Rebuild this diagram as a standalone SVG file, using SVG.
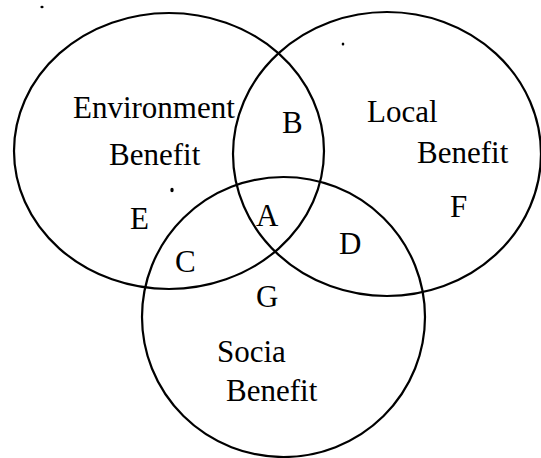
<svg xmlns="http://www.w3.org/2000/svg" width="541" height="458" viewBox="0 0 541 458">
<style>
.c{fill:none;stroke:#000;stroke-width:2.2}
.t{font-family:'Liberation Serif',serif;font-size:31px;fill:#000}
.d{fill:#000}
</style>
<rect width="541" height="458" fill="#fff"/>
<g id="environment">
<ellipse class="c" cx="169" cy="151" rx="155" ry="138"/>
<text class="t" x="73" y="118">Environment</text>
<text class="t" x="109" y="165">Benefit</text>
</g>
<g id="local">
<ellipse class="c" cx="387" cy="154" rx="154" ry="142"/>
<text class="t" x="367" y="122">Local</text>
<text class="t" x="417" y="163">Benefit</text>
</g>
<g id="social">
<ellipse class="c" cx="283.5" cy="317" rx="141.5" ry="140"/>
<text class="t" x="217" y="362">Socia</text>
<text class="t" x="226" y="401">Benefit</text>
</g>
<g id="regions">
<text class="t" x="282" y="133">B</text>
<text class="t" x="130" y="229">E</text>
<text class="t" x="256" y="226">A</text>
<text class="t" x="450" y="217">F</text>
<text class="t" x="339" y="254">D</text>
<text class="t" x="175" y="272">C</text>
<text class="t" x="256" y="307">G</text>
</g>
<g id="dots">
<ellipse class="d" cx="42" cy="7" rx="1.6" ry="1.3"/>
<ellipse class="d" cx="343" cy="44" rx="1.3" ry="1.6"/>
<ellipse class="d" cx="172" cy="190" rx="1.7" ry="2.3"/>
</g>
<g id="connectors"></g>
</svg>
